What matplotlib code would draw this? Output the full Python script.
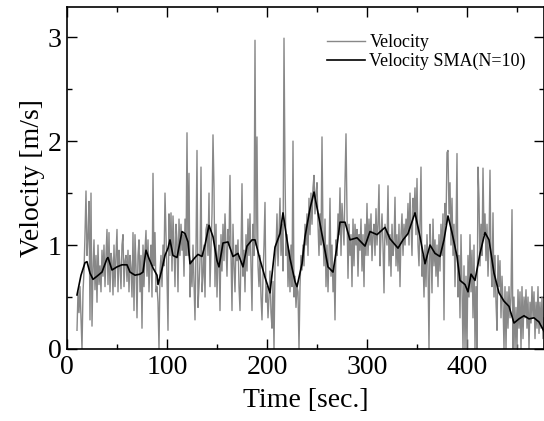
import numpy as np
import matplotlib
matplotlib.use("Agg")
import matplotlib.pyplot as plt
from matplotlib.ticker import MultipleLocator

plt.rcParams['font.family'] = ['Liberation Serif', 'DejaVu Serif']

# raw velocity, one sample per second starting at t = 10 s
t_start = 10
velocity = [
    0.18, 0.55, 0.35, 0.6, 0.3, 0.0, 0.55, 0.75, 1.1, 1.52,
    0.9, 1.08, 1.42, 0.28, 1.5, 0.22, 0.76, 1.05, 0.57, 0.9,
    0.45, 1.0, 0.62, 0.8, 0.55, 0.95, 0.7, 1.0, 0.6, 0.9,
    1.15, 0.62, 1.12, 0.55, 0.92, 0.85, 0.52, 1.0, 0.6, 0.9,
    1.15, 0.55, 0.95, 0.8, 0.58, 1.0, 1.1, 0.6, 0.85, 0.9,
    0.65, 0.95, 0.55, 0.9, 0.78, 0.5, 1.12, 0.37, 1.1, 0.8,
    0.3, 0.9, 1.05, 0.55, 0.9, 0.2, 1.0, 0.6, 0.95, 1.14,
    0.7, 1.05, 0.55, 0.85, 1.0, 0.5, 1.69, 0.8, 1.12, 0.55,
    0.6, 0.45, 0.0, 0.75, 0.9, 0.6, 1.0, 0.8, 1.5, 1.1,
    0.7, 0.18, 1.3, 0.9, 1.31, 0.75, 1.28, 1.0, 0.6, 1.2,
    1.05, 0.55, 1.25, 0.9, 1.2, 0.95, 1.1, 0.7, 1.25, 0.9,
    2.08, 0.9, 1.69, 0.5, 0.85, 0.6, 1.0, 0.65, 0.28, 0.95,
    1.91, 0.4, 0.6, 0.85, 1.75, 0.55, 0.7, 1.0, 0.5, 1.15,
    1.2, 0.9, 1.5, 0.6, 0.95, 1.3, 2.06, 1.55, 0.6, 1.2,
    0.5, 0.9, 1.0, 0.37, 1.1, 0.75, 1.2, 0.85, 1.3, 1.0,
    0.7, 1.15, 1.0, 1.67, 0.9, 0.37, 1.2, 0.8, 0.55, 1.0,
    0.85, 1.05, 0.6, 0.37, 0.9, 1.59, 0.7, 0.95, 0.55, 1.1,
    0.75, 1.25, 0.9, 1.3, 0.8, 0.37, 1.2, 0.9, 2.97, 1.0,
    2.04, 0.8, 0.6, 0.9, 0.5, 0.28, 0.7, 1.0, 1.41, 0.45,
    0.6, 0.3, 0.5, 0.75, 0.35, 0.2, 0.65, 0.0, 0.8, 0.95,
    1.3, 0.8, 1.1, 1.45, 0.9, 1.2, 0.75, 2.99, 1.69, 0.9,
    1.1, 0.6, 0.95, 0.55, 1.0, 0.6, 2.0, 0.5, 0.7, 0.4,
    0.6, 0.55, 0.0, 0.6, 0.9, 0.76, 1.0, 0.8, 1.2, 1.0,
    1.3, 0.9, 1.45, 1.1, 1.5, 1.2, 1.55, 1.67, 1.3, 1.5,
    1.6, 1.2, 0.9, 1.3, 1.0, 2.04, 1.1, 0.8, 1.25, 0.6,
    1.0, 0.55, 0.9, 1.45, 0.7, 1.0, 0.55, 0.8, 0.28, 1.05,
    0.9, 1.3, 1.1, 1.55, 0.9, 1.4, 1.2, 1.0, 1.6, 2.07,
    1.3, 0.68, 1.2, 0.9, 1.1, 0.6, 1.25, 0.8, 1.2, 1.0,
    1.15, 0.7, 1.1, 0.95, 1.25, 0.75, 1.1, 0.6, 1.2, 0.9,
    1.4, 0.9, 1.25, 1.0, 1.3, 0.85, 1.1, 1.2, 0.9, 1.35,
    1.0, 1.2, 1.58, 0.8, 1.1, 1.3, 1.0, 0.54, 1.2, 1.1,
    1.0, 1.57, 0.8, 1.1, 0.7, 1.2, 0.9, 1.0, 1.46, 0.8,
    1.1, 0.75, 1.2, 0.6, 1.1, 1.3, 0.9, 1.2, 1.0, 1.25,
    1.1, 1.4, 1.0, 1.5, 1.2, 0.9, 1.45, 1.3, 1.55, 1.1,
    1.64, 1.0, 0.8, 1.2, 1.75, 0.7, 0.9, 0.5, 1.0, 0.6,
    1.1, 0.8, 0.0, 1.2, 0.95, 0.54, 1.25, 0.8, 1.05, 0.7,
    1.0, 0.6, 1.1, 0.75, 1.2, 0.9, 1.3, 0.28, 1.4, 1.2,
    1.89, 1.91, 1.3, 1.6, 1.0, 1.45, 0.9, 1.2, 0.6, 1.1,
    1.88, 0.5, 0.9, 0.3, 1.1, 0.6, 0.0, 0.8, 0.0, 0.7,
    0.0, 0.9, 0.5, 1.1, 0.55, 0.95, 0.3, 1.0, 0.0, 0.6,
    0.0, 1.75, 1.45, 0.8, 1.2, 0.9, 1.74, 1.1, 1.3, 0.85,
    1.2, 0.7, 1.0, 1.72, 0.8, 0.6, 1.31, 0.5, 0.9, 0.45,
    0.18, 0.9, 0.6, 0.85, 0.3, 0.7, 0.45, 0.0, 0.6, 0.0,
    0.55, 0.2, 0.6, 0.3, 0.5, 1.34, 0.0, 0.5, 0.0, 0.4,
    0.0, 0.57, 0.2, 0.55, 0.0, 0.6, 0.1, 0.5, 0.3, 0.57,
    0.2, 0.5, 0.0, 0.45, 0.25, 0.6, 0.3, 0.55, 0.1, 0.45,
    0.2, 0.6, 0.15, 0.45, 0.2, 0.5, 0.1, 0.3,
]
time = np.arange(t_start, t_start + len(velocity))

# SMA(N=10) curve
sma_t = [10, 14, 18, 20, 23, 26, 30, 35, 40, 41, 45, 50, 55, 60, 63, 68, 73, 76,
         79, 82, 86, 90, 91, 95, 98, 101, 103, 106, 110, 115, 118, 121, 123, 128,
         131, 135, 138, 142, 146, 150, 152, 156, 161, 166, 171, 176, 180, 185, 188,
         193, 198, 203, 208, 213, 216, 220, 223, 228, 230, 235, 238, 243, 247, 251,
         256, 261, 266, 270, 273, 278, 283, 290, 298, 303, 310, 318, 323, 331, 336,
         341, 348, 353, 358, 363, 368, 373, 377, 381, 385, 390, 393, 398, 401, 404,
         408, 413, 418, 422, 427, 432, 437, 442, 447, 452, 457, 462, 467, 472, 477]
sma_v = [0.52, 0.71, 0.83, 0.84, 0.73, 0.67, 0.70, 0.74, 0.87, 0.88, 0.76, 0.79,
         0.81, 0.81, 0.74, 0.71, 0.72, 0.74, 0.95, 0.87, 0.78, 0.71, 0.62, 0.77,
         0.90, 0.97, 1.05, 0.90, 0.88, 1.13, 1.11, 1.03, 0.82, 0.88, 0.91, 0.89,
         1.00, 1.19, 1.08, 0.85, 0.79, 1.02, 1.03, 0.89, 0.92, 0.79, 0.99, 1.05,
         1.05, 0.86, 0.69, 0.54, 0.98, 1.11, 1.31, 1.05, 0.87, 0.65, 0.60, 0.82,
         1.08, 1.35, 1.51, 1.31, 1.05, 0.79, 0.74, 0.99, 1.22, 1.22, 1.05, 1.07,
         0.99, 1.13, 1.10, 1.17, 1.06, 0.97, 1.05, 1.11, 1.31, 1.08, 0.82, 1.00,
         0.92, 0.89, 1.05, 1.28, 1.12, 0.89, 0.66, 0.62, 0.55, 0.72, 0.66, 0.92,
         1.12, 1.05, 0.73, 0.54, 0.46, 0.41, 0.25, 0.29, 0.32, 0.29, 0.30, 0.26, 0.17]

fig = plt.figure(figsize=(5.44, 4.21), dpi=100)
ax = fig.add_axes([67 / 544, 72 / 421, 477 / 544, 342 / 421])

ax.plot(time, velocity, color='#888888', lw=1.0, label='Velocity')
ax.plot(sma_t, sma_v, color='black', lw=1.2, label='Velocity SMA(N=10)')

ax.set_xlim(0, 477)
ax.set_ylim(0, 3.29)
ax.xaxis.set_major_locator(MultipleLocator(100))
ax.xaxis.set_minor_locator(MultipleLocator(50))
ax.yaxis.set_major_locator(MultipleLocator(1))
ax.yaxis.set_minor_locator(MultipleLocator(0.5))
ax.tick_params(which='both', direction='in', top=True, right=True, width=1.0,
               labelsize=20, pad=4)
ax.tick_params(which='major', length=7)
ax.tick_params(which='minor', length=3.5)
for s in ax.spines.values():
    s.set_linewidth(1.2)

ax.set_xlabel('Time [sec.]', fontsize=20, labelpad=6)
ax.set_ylabel('Velocity [m/s]', fontsize=20, labelpad=2)

ax.legend(loc='upper left', bbox_to_anchor=(0.545, 0.92), frameon=False,
          fontsize=13, handlelength=2.1, handletextpad=0.25, labelspacing=0.1,
          borderpad=0, borderaxespad=0)

fig.savefig('out.png', dpi=100)
